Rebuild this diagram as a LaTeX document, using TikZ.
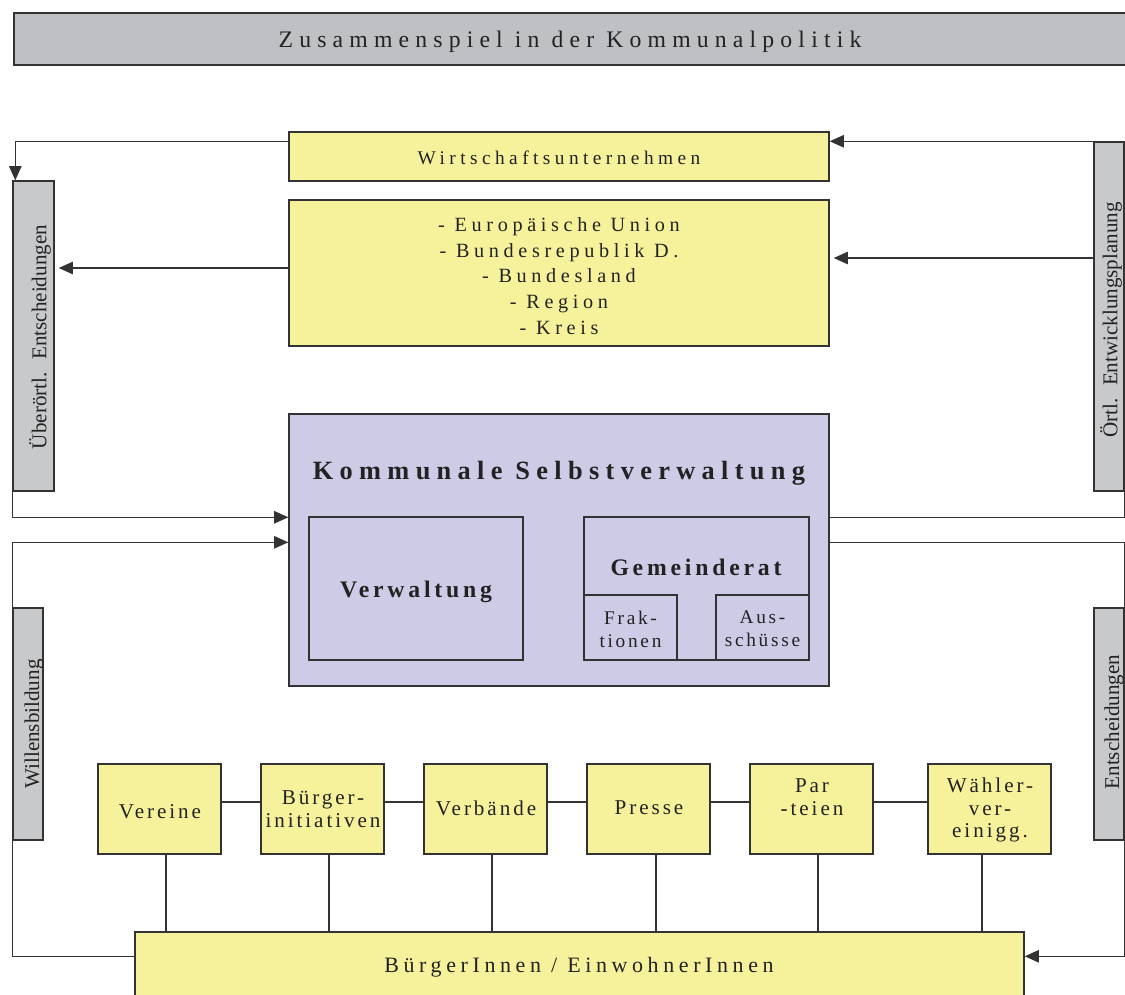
\documentclass[tikz,border=0pt]{standalone}
\usepackage{fontspec}
\setmainfont{Liberation Serif}
\usetikzlibrary{arrows.meta,fit,calc}
\definecolor{yel}{HTML}{F6F29C}
\definecolor{lav}{HTML}{CECBE6}
\definecolor{gry}{HTML}{BFC0C4}
\definecolor{gry2}{HTML}{C8C9CB}
\definecolor{ink}{HTML}{222222}
\definecolor{edge}{HTML}{333333}
\begin{document}
\begin{tikzpicture}[x=0.02cm,y=-0.02cm,
  box/.style={draw=edge,line width=0.8pt,inner sep=0pt},
  ybox/.style={box,fill=yel},
  lbox/.style={box,fill=lav},
  gbox/.style={box,fill=gry},
  sbar/.style={box,fill=gry2},
  txt/.style={text=ink,inner sep=0pt,align=center},
  conn/.style={draw=edge,line width=0.8pt},
  arr/.style={conn,-{Triangle[length=8pt,width=7pt]}},
  titlefont/.style={font=\fontsize{13.5}{16}\selectfont\addfontfeatures{LetterSpace=26}},
  wfont/.style={font=\fontsize{11}{13}\selectfont\addfontfeatures{LetterSpace=23}},
  eufont/.style={font=\fontsize{11.5}{14.6}\selectfont\addfontfeatures{LetterSpace=23}},
  bigbold/.style={font=\fontsize{15}{18}\selectfont\bfseries\addfontfeatures{LetterSpace=24}},
  midbold/.style={font=\fontsize{13.5}{16}\selectfont\bfseries\addfontfeatures{LetterSpace=16}},
  smfont/.style={font=\fontsize{11}{13}\selectfont\addfontfeatures{LetterSpace=14}},
  rowfont/.style={font=\fontsize{12}{13}\selectfont\addfontfeatures{LetterSpace=14}},
  bfont/.style={font=\fontsize{12.5}{15}\selectfont\addfontfeatures{LetterSpace=21}},
  vfont/.style={font=\fontsize{12}{14}\selectfont},
]
\useasboundingbox (0,0) rectangle (1125,994);

% title
\node[gbox, fit={(14,13)(1126,65)}] (title) {};
\node[txt, titlefont] (titletext) at (570,42) {Zusammenspiel in der Kommunalpolitik};

% upper boxes
\node[ybox, fit={(289,132)(829,181)}] (wirt) {};
\node[txt, wfont] (wirtt) at (559,158) {Wirtschaftsunternehmen};
\node[ybox, fit={(289,200)(829,346)}] (eu) {};
\node[txt, eufont] (eutext) at (559,276) {- Europäische Union\\- Bundesrepublik D.\\- Bundesland\\- Region\\- Kreis};

% side bars
\node[sbar, fit={(13,181)(54,491)}] (lbar) {};
\node[txt, vfont, rotate=90] (lbart) at (40,337) {Überörtl.\hspace{0.6em}Entscheidungen};
\node[sbar, fit={(1094,142)(1124,491)}] (rbar) {};
\node[txt, vfont, rotate=90] (rbart) at (1111,320) {Örtl.\hspace{0.6em}Entwicklungsplanung};
\node[sbar, fit={(13,608)(43,840)}] (wbar) {};
\node[txt, vfont, rotate=90] (wbart) at (34,724) {Willensbildung};
\node[sbar, fit={(1094,608)(1124,840)}] (ebar) {};
\node[txt, vfont, rotate=90] (ebart) at (1114,722) {Entscheidungen};

% main box
\node[lbox, fit={(289,414)(829,686)}] (main) {};
\node[txt, bigbold] (maint) at (559,473) {Kommunale Selbstverwaltung};
\node[box, fit={(309,517)(523,660)}] (verw) {};
\node[txt, midbold] (verwt) at (416,592) {Verwaltung};
\node[box, fit={(584,517)(809,660)}] (gem) {};
\node[txt, midbold] (gemt) at (696,567) {Gemeinderat};
\node[box, fit={(584,595)(677,660)}] (frak) {};
\node[txt, smfont] (frakt) at (630.5,629) {Frak-\\tionen};
\node[box, fit={(716,595)(809,660)}] (aus) {};
\node[txt, smfont] (aust) at (762.5,629) {Aus-\\schüsse};

% bottom row
\node[ybox, fit={(98,764)(221,854)}] (b1) {};
\node[txt, rowfont] (b1t) at (160,812) {Vereine};
\node[ybox, fit={(261,764)(384,854)}] (b2) {};
\node[txt, rowfont] (b2t) at (323,809) {Bürger-\\initiativen};
\node[ybox, fit={(424,764)(547,854)}] (b3) {};
\node[txt, rowfont] (b3t) at (486,808) {Verbände};
\node[ybox, fit={(587,764)(710,854)}] (b4) {};
\node[txt, rowfont] (b4t) at (649,808) {Presse};
\node[ybox, fit={(750,764)(873,854)}] (b5) {};
\node[txt, rowfont] (b5t) at (812,797) {Par\\-teien};
\node[ybox, fit={(928,764)(1051,854)}] (b6) {};
\node[txt, rowfont] (b6t) at (990,810) {Wähler-\\ver-\\einigg.};

\node[ybox, fit={(135,932)(1024,1002)}] (buerger) {};
\node[txt, bfont] (buergert) at (579,967) {BürgerInnen / EinwohnerInnen};

% connectors top
\coordinate (wL) at ($(wirt.north west)+(0,10)$);
\draw[arr] (wL) -| ($(lbar.north west)+(3,0)$);
\coordinate (eL) at ($(eu.west)+(0,-5)$);
\draw[arr, shorten >=0.08cm] (eL) -- (eL -| lbar.east);
\draw[arr] (rbar.north east) -- (rbar.north east -| wirt.east);
\coordinate (eR) at ($(eu.east)+(0,-15)$);
\draw[arr, shorten >=0.08cm] (eR -| rbar.west) -- (eR);

% connectors main
\coordinate (m1) at ($(main.north west)+(0,104)$);
\coordinate (m1r) at ($(main.north east)+(0,104)$);
\coordinate (m2) at ($(main.north west)+(0,129)$);
\coordinate (m2r) at ($(main.north east)+(0,129)$);
\draw[arr] (lbar.south west) |- (m1);
\draw[conn] (m1r) -| (rbar.south east);
\coordinate (bw) at ($(buerger.north west)+(0,25)$);
\coordinate (be) at ($(buerger.north east)+(0,25)$);
\draw[conn] (bw) -| (wbar.south west);
\draw[arr] (wbar.north west) |- (m2);
\draw[conn] (m2r) -| (ebar.north east);
\draw[arr] (ebar.south east) |- (be);

% bottom row connectors
\foreach \a/\b in {b1/b2,b2/b3,b3/b4,b4/b5,b5/b6}{
  \coordinate (h) at ($(\a.east)+(0,-7)$);
  \draw[conn] (h) -- (h -| \b.west);
}
\foreach \n/\d in {b1/6.5,b2/6.5,b3/6.5,b4/7.5,b5/6.5,b6/-7.5}{
  \coordinate (v) at ($(\n.south)+(\d,0)$);
  \draw[conn] (v) -- (v |- buerger.north);
}
\end{tikzpicture}
\end{document}
